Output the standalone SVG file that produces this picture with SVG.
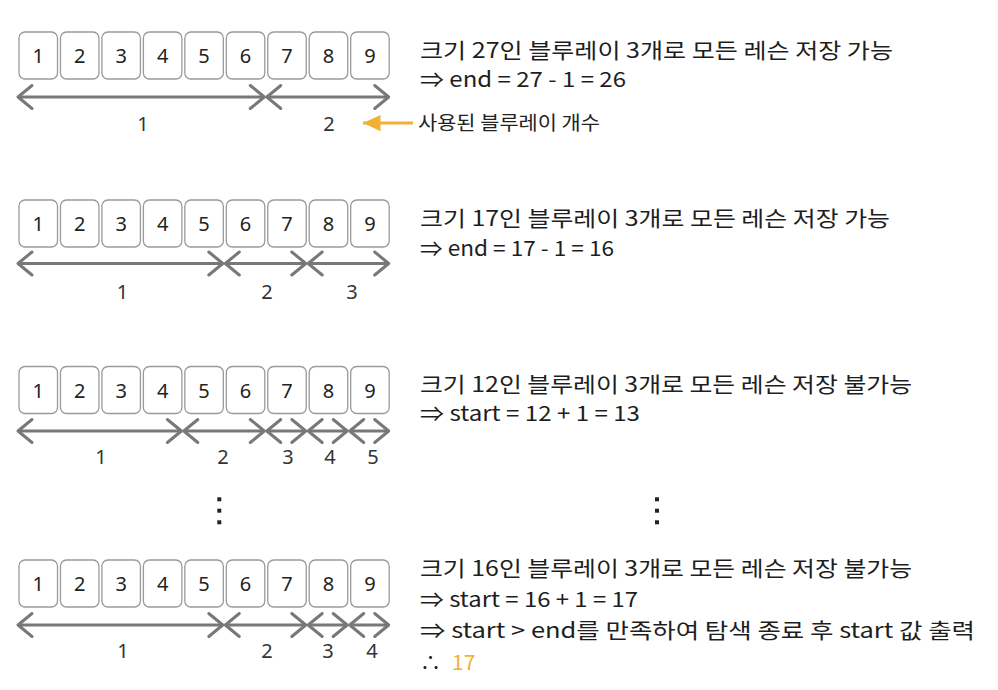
<svg xmlns="http://www.w3.org/2000/svg" width="998" height="690" viewBox="0 0 998 690">
<style>
.box{fill:#fff;stroke:#9a9a9a;stroke-width:1.3}
.num{font-family:"Noto Sans","Liberation Sans",sans-serif;font-size:20px;fill:#222;text-anchor:middle}
.cnt{font-family:"Noto Sans","Liberation Sans",sans-serif;font-size:20px;fill:#333;text-anchor:middle}
.arr{stroke:#787878;stroke-width:3;fill:none;marker-start:url(#chev);marker-end:url(#chev)}
.hand{font-family:"Noto Sans CJK KR","Noto Sans",sans-serif;font-size:21px;fill:#1e1e1e}
.note{font-family:"Noto Sans CJK KR","Noto Sans",sans-serif;font-size:19px;fill:#222}
.dot{fill:#222}
</style>
<defs>
<marker id="chev" markerUnits="userSpaceOnUse" markerWidth="30" markerHeight="30" viewBox="-16 -15 20 30" refX="0" refY="0" orient="auto-start-reverse">
<path d="M-14,-11.5 L0,0 L-14,11.5" fill="none" stroke="#787878" stroke-width="3" stroke-linejoin="round" stroke-linecap="round"/>
</marker>
<marker id="tri" markerUnits="userSpaceOnUse" markerWidth="20" markerHeight="20" viewBox="-14 -7 16 14" refX="0" refY="0" orient="auto">
<path d="M-14,-6.5 L0,0 L-14,6.5 Z" fill="#F2B134"/>
</marker>
</defs>

<g id="row1">
<rect class="box" x="19" y="32" width="38.5" height="47" rx="6"/>
<rect class="box" x="60.46" y="32" width="38.5" height="47" rx="6"/>
<rect class="box" x="101.92" y="32" width="38.5" height="47" rx="6"/>
<rect class="box" x="143.38" y="32" width="38.5" height="47" rx="6"/>
<rect class="box" x="184.84" y="32" width="38.5" height="47" rx="6"/>
<rect class="box" x="226.3" y="32" width="38.5" height="47" rx="6"/>
<rect class="box" x="267.76" y="32" width="38.5" height="47" rx="6"/>
<rect class="box" x="309.22" y="32" width="38.5" height="47" rx="6"/>
<rect class="box" x="350.68" y="32" width="38.5" height="47" rx="6"/>
<text class="num" x="38.25" y="63">1</text>
<text class="num" x="79.71" y="63">2</text>
<text class="num" x="121.17" y="63">3</text>
<text class="num" x="162.63" y="63">4</text>
<text class="num" x="204.09" y="63">5</text>
<text class="num" x="245.55" y="63">6</text>
<text class="num" x="287.01" y="63">7</text>
<text class="num" x="328.47" y="63">8</text>
<text class="num" x="369.93" y="63">9</text>
</g>

<g id="row2">
<rect class="box" x="19" y="200" width="38.5" height="47" rx="6"/>
<rect class="box" x="60.46" y="200" width="38.5" height="47" rx="6"/>
<rect class="box" x="101.92" y="200" width="38.5" height="47" rx="6"/>
<rect class="box" x="143.38" y="200" width="38.5" height="47" rx="6"/>
<rect class="box" x="184.84" y="200" width="38.5" height="47" rx="6"/>
<rect class="box" x="226.3" y="200" width="38.5" height="47" rx="6"/>
<rect class="box" x="267.76" y="200" width="38.5" height="47" rx="6"/>
<rect class="box" x="309.22" y="200" width="38.5" height="47" rx="6"/>
<rect class="box" x="350.68" y="200" width="38.5" height="47" rx="6"/>
<text class="num" x="38.25" y="231">1</text>
<text class="num" x="79.71" y="231">2</text>
<text class="num" x="121.17" y="231">3</text>
<text class="num" x="162.63" y="231">4</text>
<text class="num" x="204.09" y="231">5</text>
<text class="num" x="245.55" y="231">6</text>
<text class="num" x="287.01" y="231">7</text>
<text class="num" x="328.47" y="231">8</text>
<text class="num" x="369.93" y="231">9</text>
</g>

<g id="row3">
<rect class="box" x="19" y="366.5" width="38.5" height="47" rx="6"/>
<rect class="box" x="60.46" y="366.5" width="38.5" height="47" rx="6"/>
<rect class="box" x="101.92" y="366.5" width="38.5" height="47" rx="6"/>
<rect class="box" x="143.38" y="366.5" width="38.5" height="47" rx="6"/>
<rect class="box" x="184.84" y="366.5" width="38.5" height="47" rx="6"/>
<rect class="box" x="226.3" y="366.5" width="38.5" height="47" rx="6"/>
<rect class="box" x="267.76" y="366.5" width="38.5" height="47" rx="6"/>
<rect class="box" x="309.22" y="366.5" width="38.5" height="47" rx="6"/>
<rect class="box" x="350.68" y="366.5" width="38.5" height="47" rx="6"/>
<text class="num" x="38.25" y="397.5">1</text>
<text class="num" x="79.71" y="397.5">2</text>
<text class="num" x="121.17" y="397.5">3</text>
<text class="num" x="162.63" y="397.5">4</text>
<text class="num" x="204.09" y="397.5">5</text>
<text class="num" x="245.55" y="397.5">6</text>
<text class="num" x="287.01" y="397.5">7</text>
<text class="num" x="328.47" y="397.5">8</text>
<text class="num" x="369.93" y="397.5">9</text>
</g>

<g id="row4">
<rect class="box" x="19" y="560" width="38.5" height="47" rx="6"/>
<rect class="box" x="60.46" y="560" width="38.5" height="47" rx="6"/>
<rect class="box" x="101.92" y="560" width="38.5" height="47" rx="6"/>
<rect class="box" x="143.38" y="560" width="38.5" height="47" rx="6"/>
<rect class="box" x="184.84" y="560" width="38.5" height="47" rx="6"/>
<rect class="box" x="226.3" y="560" width="38.5" height="47" rx="6"/>
<rect class="box" x="267.76" y="560" width="38.5" height="47" rx="6"/>
<rect class="box" x="309.22" y="560" width="38.5" height="47" rx="6"/>
<rect class="box" x="350.68" y="560" width="38.5" height="47" rx="6"/>
<text class="num" x="38.25" y="591">1</text>
<text class="num" x="79.71" y="591">2</text>
<text class="num" x="121.17" y="591">3</text>
<text class="num" x="162.63" y="591">4</text>
<text class="num" x="204.09" y="591">5</text>
<text class="num" x="245.55" y="591">6</text>
<text class="num" x="287.01" y="591">7</text>
<text class="num" x="328.47" y="591">8</text>
<text class="num" x="369.93" y="591">9</text>
</g>

<g id="connectors">
<line class="arr" x1="18" y1="97" x2="264.3" y2="97"/>
<line class="arr" x1="266.8" y1="97" x2="388.7" y2="97"/>

<line class="arr" x1="18" y1="263.5" x2="222.8" y2="263.5"/>
<line class="arr" x1="225.3" y1="263.5" x2="305.8" y2="263.5"/>
<line class="arr" x1="308.2" y1="263.5" x2="388.7" y2="263.5"/>

<line class="arr" x1="18" y1="431" x2="181.4" y2="431"/>
<line class="arr" x1="183.8" y1="431" x2="264.3" y2="431"/>
<line class="arr" x1="266.8" y1="431" x2="305.8" y2="431"/>
<line class="arr" x1="308.2" y1="431" x2="347.2" y2="431"/>
<line class="arr" x1="349.7" y1="431" x2="388.7" y2="431"/>

<line class="arr" x1="18" y1="625" x2="222.8" y2="625"/>
<line class="arr" x1="225.3" y1="625" x2="305.8" y2="625"/>
<line class="arr" x1="308.2" y1="625" x2="347.2" y2="625"/>
<line class="arr" x1="349.7" y1="625" x2="388.7" y2="625"/>

<line x1="413" y1="123" x2="363" y2="123" stroke="#F2B134" stroke-width="3" marker-end="url(#tri)"/>
</g>

<g id="counts">
<text class="cnt" x="143" y="131">1</text>
<text class="cnt" x="329" y="131">2</text>

<text class="cnt" x="122.5" y="299">1</text>
<text class="cnt" x="267" y="299">2</text>
<text class="cnt" x="352" y="299">3</text>

<text class="cnt" x="101" y="464">1</text>
<text class="cnt" x="223" y="464">2</text>
<text class="cnt" x="288" y="464">3</text>
<text class="cnt" x="330" y="464">4</text>
<text class="cnt" x="373" y="464">5</text>

<text class="cnt" x="123" y="658">1</text>
<text class="cnt" x="267" y="658">2</text>
<text class="cnt" x="328" y="658">3</text>
<text class="cnt" x="372" y="658">4</text>
</g>

<g id="note">
<text class="note" x="418" y="130" textLength="182" lengthAdjust="spacingAndGlyphs">사용된 블루레이 개수</text>
</g>

<g id="text1">
<text class="hand" x="420" y="58" textLength="473" lengthAdjust="spacingAndGlyphs">크기 27인 블루레이 3개로 모든 레슨 저장 가능</text>
<text class="hand" x="420" y="87" textLength="206" lengthAdjust="spacingAndGlyphs">⇒ end = 27 - 1 = 26</text>
</g>
<g id="text2">
<text class="hand" x="420" y="226" textLength="470" lengthAdjust="spacingAndGlyphs">크기 17인 블루레이 3개로 모든 레슨 저장 가능</text>
<text class="hand" x="420" y="256" textLength="194" lengthAdjust="spacingAndGlyphs">⇒ end = 17 - 1 = 16</text>
</g>
<g id="text3">
<text class="hand" x="420" y="392" textLength="492" lengthAdjust="spacingAndGlyphs">크기 12인 블루레이 3개로 모든 레슨 저장 불가능</text>
<text class="hand" x="420" y="421" textLength="220" lengthAdjust="spacingAndGlyphs">⇒ start = 12 + 1 = 13</text>
</g>
<g id="text4">
<text class="hand" x="420" y="576" textLength="492" lengthAdjust="spacingAndGlyphs">크기 16인 블루레이 3개로 모든 레슨 저장 불가능</text>
<text class="hand" x="420" y="607" textLength="218" lengthAdjust="spacingAndGlyphs">⇒ start = 16 + 1 = 17</text>
<text class="hand" x="420" y="638" textLength="555" lengthAdjust="spacingAndGlyphs">⇒ start &gt; end를 만족하여 탐색 종료 후 start 값 출력</text>
<text class="hand" x="420" y="670">∴</text>
<text class="hand" x="452" y="670" style="fill:#F2B134">17</text>
</g>

<g id="ellipsis">
<rect class="dot" x="217.3" y="497.3" width="4" height="4"/>
<rect class="dot" x="217.3" y="508.7" width="4" height="4"/>
<rect class="dot" x="217.3" y="520.3" width="4" height="4"/>
<rect class="dot" x="655" y="497.3" width="4" height="4"/>
<rect class="dot" x="655" y="508.7" width="4" height="4"/>
<rect class="dot" x="655" y="520.3" width="4" height="4"/>
</g>
</svg>
